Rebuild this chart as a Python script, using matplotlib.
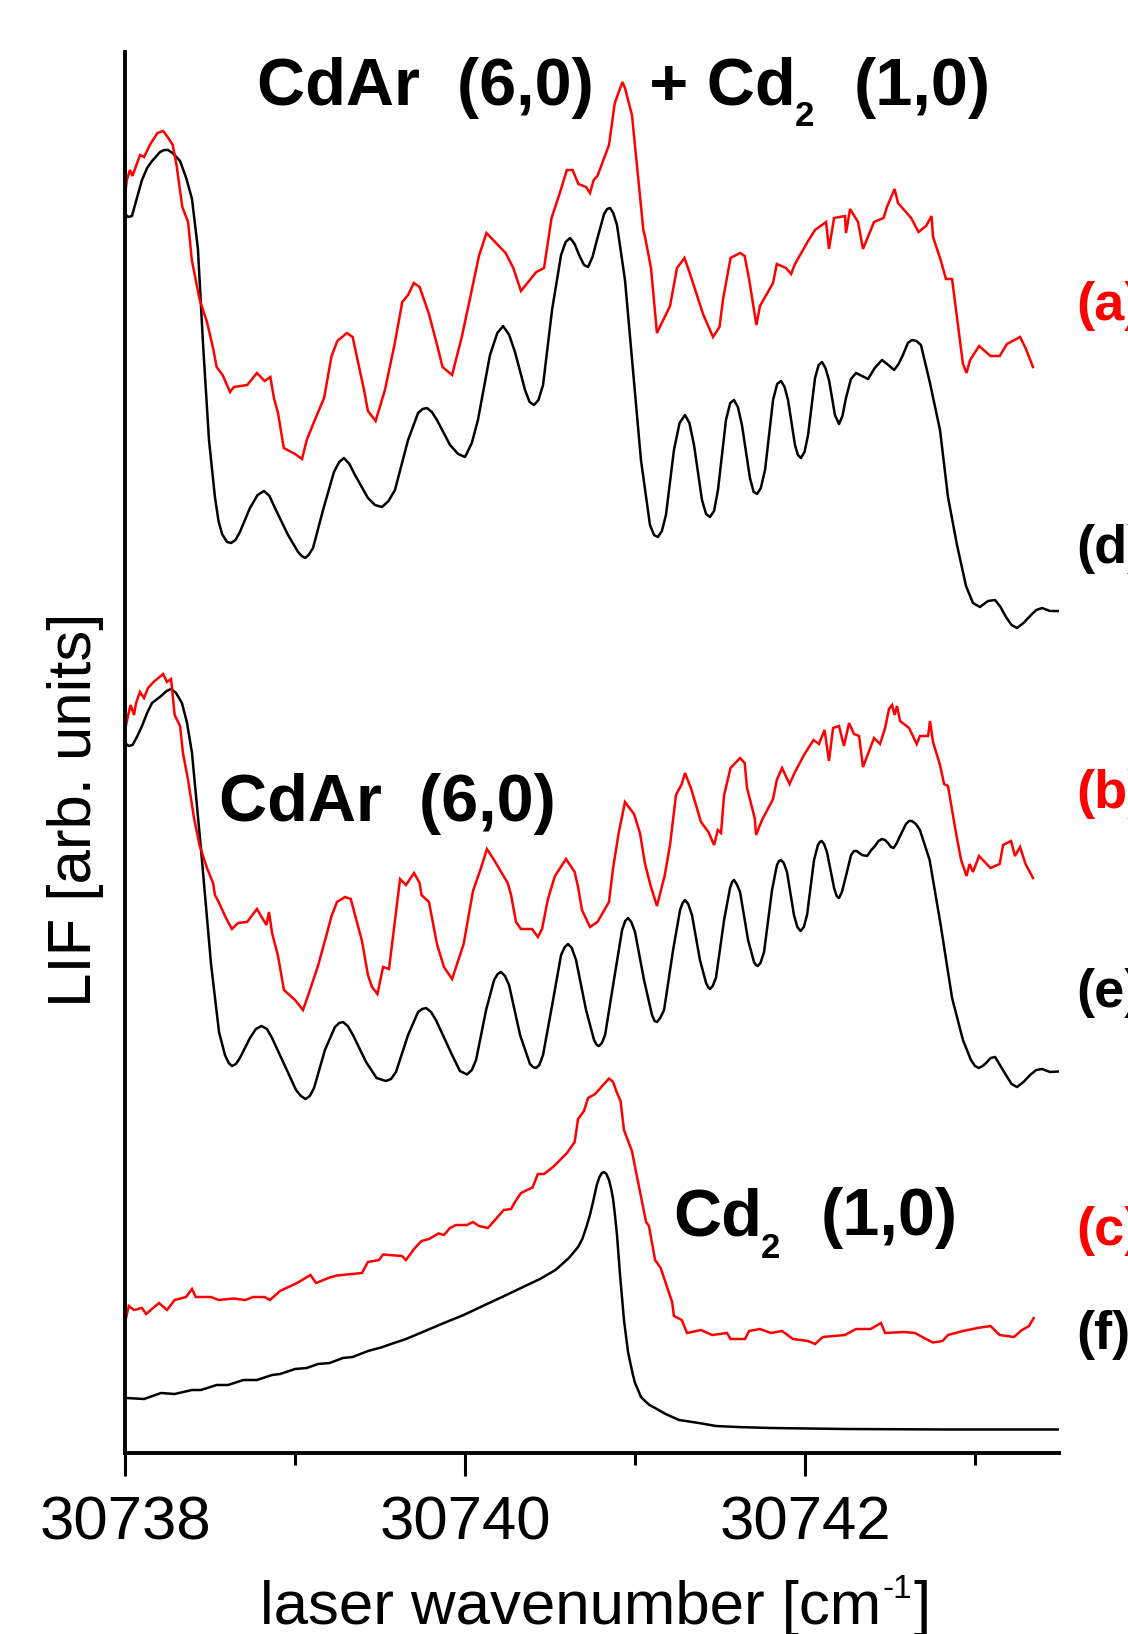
import numpy as np
import matplotlib
matplotlib.use('Agg')
import matplotlib.pyplot as plt
from matplotlib.ticker import MultipleLocator

plt.rcParams['font.family'] = ['Liberation Sans', 'DejaVu Sans']

# wavenumber offsets from 30738 cm-1 and LIF intensities (arb. units)
nu0 = 30738

# (a) experiment, CdAr (6,0) + Cd2 (1,0)
a_dnu = [0.000, 0.011, 0.029, 0.044, 0.067, 0.089, 0.112, 0.146, 0.191, 0.224, 0.247, 0.281, 0.303, 0.337,
         0.371, 0.393, 0.438, 0.482, 0.518, 0.539, 0.574, 0.618, 0.641, 0.719, 0.776, 0.821, 0.855, 0.876,
         0.900, 0.934, 1.000, 1.041, 1.069, 1.114, 1.171, 1.215, 1.249, 1.305, 1.339, 1.406, 1.429, 1.474,
         1.529, 1.586, 1.631, 1.665, 1.699, 1.733, 1.788, 1.834, 1.868, 1.924, 1.981, 2.025, 2.082, 2.126,
         2.239, 2.284, 2.329, 2.419, 2.465, 2.509, 2.554, 2.599, 2.633, 2.667, 2.712, 2.735, 2.757, 2.779,
         2.847, 2.881, 2.926, 2.941, 2.982, 3.049, 3.059, 3.094, 3.129, 3.206, 3.247, 3.291, 3.324, 3.400,
         3.459, 3.497, 3.518, 3.562, 3.618, 3.645, 3.671, 3.714, 3.735, 3.812, 3.834, 3.888, 3.918, 3.941,
         4.018, 4.059, 4.124, 4.141, 4.171, 4.235, 4.241, 4.265, 4.312, 4.341, 4.406, 4.462, 4.482, 4.527,
         4.547, 4.624, 4.668, 4.712, 4.744, 4.753, 4.798, 4.829, 4.865, 4.929, 4.950, 4.971, 5.024, 5.091,
         5.145, 5.188, 5.265, 5.297, 5.341]
a_lif = [1258, 1273, 1283, 1277, 1288, 1298, 1296, 1308, 1320, 1322, 1317, 1308, 1288, 1246,
         1231, 1193, 1154, 1131, 1105, 1086, 1078, 1061, 1066, 1068, 1080, 1072, 1076, 1055,
         1040, 1005, 999, 994, 1013, 1032, 1055, 1097, 1112, 1120, 1116, 1063, 1042, 1032,
         1063, 1109, 1151, 1158, 1170, 1166, 1139, 1109, 1086, 1078, 1116, 1151, 1197, 1220,
         1200, 1185, 1162, 1181, 1185, 1235, 1258, 1283, 1283, 1269, 1266, 1260, 1273, 1277,
         1308, 1350, 1371, 1365, 1338, 1223, 1216, 1185, 1120, 1147, 1185, 1195, 1179, 1139,
         1116, 1126, 1154, 1195, 1200, 1197, 1174, 1128, 1147, 1170, 1189, 1185, 1179, 1189,
         1212, 1223, 1231, 1204, 1235, 1237, 1220, 1244, 1231, 1204, 1231, 1235, 1246, 1264,
         1250, 1235, 1221, 1227, 1237, 1216, 1193, 1174, 1174, 1089, 1080, 1093, 1107, 1097,
         1097, 1109, 1116, 1105, 1086]

# (d) simulation, CdAr (6,0) + Cd2 (1,0)
d_dnu = [0.000, 0.020, 0.041, 0.070, 0.100, 0.130, 0.159, 0.206, 0.230, 0.253, 0.280, 0.324, 0.360, 0.394,
         0.429, 0.459, 0.494, 0.529, 0.550, 0.571, 0.600, 0.624, 0.650, 0.676, 0.735, 0.780, 0.818, 0.850,
         0.882, 0.959, 1.018, 1.040, 1.059, 1.080, 1.106, 1.165, 1.229, 1.260, 1.288, 1.320, 1.353, 1.429,
         1.470, 1.512, 1.550, 1.588, 1.665, 1.724, 1.750, 1.776, 1.805, 1.835, 1.912, 1.960, 2.000, 2.040,
         2.076, 2.147, 2.190, 2.224, 2.260, 2.294, 2.353, 2.380, 2.406, 2.432, 2.459, 2.512, 2.565, 2.592,
         2.618, 2.645, 2.671, 2.700, 2.724, 2.750, 2.776, 2.818, 2.836, 2.853, 2.872, 2.894, 2.941, 2.988,
         3.035, 3.088, 3.112, 3.135, 3.158, 3.182, 3.229, 3.262, 3.294, 3.320, 3.347, 3.394, 3.418, 3.441,
         3.465, 3.488, 3.535, 3.560, 3.582, 3.605, 3.629, 3.676, 3.698, 3.718, 3.740, 3.765, 3.812, 3.836,
         3.859, 3.880, 3.900, 3.941, 3.958, 3.976, 3.997, 4.018, 4.059, 4.080, 4.100, 4.120, 4.141, 4.176,
         4.200, 4.220, 4.241, 4.270, 4.300, 4.335, 4.371, 4.410, 4.453, 4.490, 4.524, 4.550, 4.576, 4.605,
         4.629, 4.655, 4.682, 4.735, 4.794, 4.841, 4.894, 4.947, 4.988, 5.029, 5.076, 5.118, 5.150, 5.182,
         5.215, 5.247, 5.285, 5.324, 5.360, 5.394, 5.440, 5.494]
d_lif = [1239, 1236, 1237, 1255, 1273, 1285, 1292, 1301, 1303, 1303, 1300, 1292, 1275, 1254,
         1204, 1109, 1013, 956, 932, 919, 911, 910, 913, 921, 945, 958, 962, 957,
         945, 918, 901, 897, 895, 898, 905, 943, 981, 991, 995, 989, 978, 955,
         948, 946, 952, 963, 1013, 1040, 1044, 1045, 1041, 1033, 1008, 999, 996, 1010,
         1033, 1098, 1120, 1127, 1118, 1101, 1063, 1051, 1048, 1053, 1068, 1143, 1198, 1211,
         1215, 1209, 1198, 1188, 1186, 1196, 1213, 1239, 1244, 1245, 1240, 1228, 1173, 1083,
         993, 928, 918, 916, 922, 938, 1003, 1030, 1038, 1030, 1008, 953, 939, 936,
         942, 963, 1033, 1050, 1053, 1046, 1028, 975, 961, 959, 965, 983, 1053, 1069,
         1072, 1066, 1053, 1008, 998, 995, 1001, 1018, 1075, 1088, 1091, 1085, 1073, 1038,
         1029, 1037, 1055, 1074, 1080, 1077, 1074, 1085, 1093, 1088, 1083, 1089, 1098, 1110,
         1113, 1112, 1108, 1070, 1023, 956, 908, 867, 850, 846, 852, 853, 846, 836,
         828, 825, 830, 837, 843, 845, 842, 842]

# (b) experiment, CdAr (6,0)
b_dnu = [0.000, 0.024, 0.033, 0.053, 0.065, 0.088, 0.112, 0.135, 0.168, 0.224, 0.247, 0.271, 0.292, 0.324,
         0.341, 0.371, 0.406, 0.438, 0.482, 0.518, 0.529, 0.551, 0.594, 0.629, 0.665, 0.718, 0.776, 0.832,
         0.847, 0.865, 0.900, 0.935, 1.000, 1.047, 1.080, 1.135, 1.182, 1.215, 1.247, 1.294, 1.328, 1.394,
         1.429, 1.453, 1.485, 1.518, 1.553, 1.618, 1.653, 1.700, 1.733, 1.744, 1.788, 1.835, 1.876, 1.924,
         1.992, 2.047, 2.094, 2.129, 2.171, 2.251, 2.271, 2.300, 2.329, 2.394, 2.429, 2.453, 2.488, 2.529,
         2.594, 2.645, 2.665, 2.688, 2.735, 2.779, 2.847, 2.871, 2.904, 2.941, 2.994, 3.029, 3.059, 3.094,
         3.129, 3.174, 3.206, 3.241, 3.275, 3.294, 3.329, 3.388, 3.432, 3.465, 3.487, 3.506, 3.524, 3.562,
         3.618, 3.645, 3.659, 3.704, 3.712, 3.747, 3.812, 3.834, 3.865, 3.909, 3.941, 3.994, 4.050, 4.082,
         4.115, 4.141, 4.165, 4.200, 4.229, 4.259, 4.288, 4.318, 4.341, 4.406, 4.441, 4.471, 4.494, 4.512,
         4.527, 4.541, 4.559, 4.612, 4.657, 4.676, 4.724, 4.735, 4.753, 4.794, 4.818, 4.841, 4.885, 4.918,
         4.950, 4.968, 4.988, 5.024, 5.091, 5.145, 5.165, 5.212, 5.235, 5.265, 5.297, 5.341]
b_lif = [723, 742, 748, 738, 750, 761, 755, 765, 771, 779, 771, 774, 738, 727,
         700, 673, 635, 608, 585, 570, 558, 551, 535, 524, 530, 531, 544, 528,
         541, 520, 497, 463, 453, 443, 459, 487, 516, 537, 551, 556, 554, 512,
         478, 466, 459, 486, 484, 574, 568, 580, 570, 558, 551, 509, 486, 474,
         509, 562, 585, 604, 593, 570, 558, 531, 524, 524, 516, 524, 554, 577,
         594, 581, 566, 543, 526, 531, 551, 585, 620, 651, 639, 620, 589, 566,
         547, 577, 608, 658, 669, 680, 665, 631, 621, 608, 623, 620, 658, 685,
         695, 690, 665, 635, 618, 633, 654, 673, 685, 669, 681, 698, 713, 709,
         723, 692, 725, 727, 707, 730, 719, 717, 686, 715, 709, 725, 744, 748,
         738, 747, 732, 725, 709, 717, 717, 732, 711, 688, 669, 667, 623, 593,
         577, 589, 581, 597, 585, 589, 608, 612, 597, 606, 589, 575]

# (e) simulation, CdAr (6,0)
e_dnu = [0.000, 0.022, 0.044, 0.070, 0.100, 0.130, 0.159, 0.212, 0.245, 0.271, 0.300, 0.335, 0.365, 0.394,
         0.447, 0.506, 0.553, 0.588, 0.610, 0.629, 0.652, 0.676, 0.735, 0.770, 0.803, 0.835, 0.865, 0.941,
         1.006, 1.035, 1.062, 1.087, 1.112, 1.176, 1.235, 1.260, 1.282, 1.310, 1.341, 1.418, 1.480, 1.535,
         1.565, 1.594, 1.665, 1.724, 1.748, 1.771, 1.800, 1.829, 1.924, 1.970, 2.012, 2.040, 2.065, 2.124,
         2.171, 2.192, 2.212, 2.235, 2.259, 2.324, 2.382, 2.400, 2.418, 2.437, 2.459, 2.518, 2.565, 2.587,
         2.606, 2.628, 2.653, 2.712, 2.759, 2.775, 2.788, 2.805, 2.824, 2.876, 2.924, 2.942, 2.959, 2.978,
         3.000, 3.053, 3.100, 3.115, 3.129, 3.148, 3.171, 3.224, 3.265, 3.280, 3.294, 3.313, 3.335, 3.382,
         3.418, 3.430, 3.441, 3.457, 3.476, 3.524, 3.559, 3.571, 3.582, 3.598, 3.618, 3.665, 3.700, 3.711,
         3.721, 3.738, 3.759, 3.806, 3.835, 3.847, 3.859, 3.875, 3.894, 3.935, 3.955, 3.974, 3.993, 4.012,
         4.053, 4.076, 4.087, 4.098, 4.112, 4.129, 4.171, 4.186, 4.200, 4.217, 4.235, 4.271, 4.288, 4.304,
         4.335, 4.365, 4.390, 4.412, 4.432, 4.453, 4.470, 4.488, 4.505, 4.521, 4.540, 4.559, 4.594, 4.612,
         4.629, 4.652, 4.676, 4.733, 4.798, 4.865, 4.929, 4.976, 5.000, 5.022, 5.045, 5.065, 5.092, 5.118,
         5.150, 5.182, 5.215, 5.247, 5.285, 5.324, 5.360, 5.394, 5.441, 5.492]
e_lif = [710, 707, 708, 716, 727, 740, 750, 757, 762, 764, 760, 750, 730, 700,
         604, 489, 421, 398, 390, 387, 389, 395, 415, 424, 427, 424, 415, 387,
         363, 357, 354, 357, 365, 403, 426, 430, 431, 427, 418, 391, 375, 372,
         374, 381, 418, 441, 444, 445, 441, 433, 398, 382, 378.5, 383, 393, 443,
         473, 479, 481, 477, 468, 418, 389, 386, 385, 388, 398, 453, 498, 506,
         509, 505, 493, 443, 413, 408, 407, 410, 418, 473, 523, 532, 535, 531,
         521, 473, 438, 432, 431, 435, 443, 503, 543, 550, 553, 549, 538, 493,
         470, 466, 464, 467, 475, 533, 565, 571, 573, 569, 561, 513, 491, 488,
         487, 490, 501, 563, 588, 592, 593, 590, 581, 538, 526, 522, 526, 538,
         593, 608, 611, 612, 609, 601, 565, 557, 555, 561, 573, 598, 602, 602,
         598, 597, 603, 607, 612, 614, 613, 610, 606, 605, 610, 617, 629, 632,
         632, 629, 623, 593, 528, 455, 413, 393, 387, 385, 387, 390, 395, 396,
         387, 378, 369, 366, 371, 378, 383, 384, 381, 381.5]

# (c) experiment, Cd2 (1,0)
c_dnu = [0.006, 0.022, 0.053, 0.100, 0.124, 0.200, 0.247, 0.292, 0.359, 0.394, 0.416, 0.506, 0.551, 0.641,
         0.708, 0.753, 0.821, 0.853, 0.912, 1.012, 1.091, 1.124, 1.204, 1.247, 1.394, 1.429, 1.494, 1.518,
         1.629, 1.653, 1.700, 1.744, 1.788, 1.845, 1.876, 1.912, 1.947, 2.012, 2.047, 2.082, 2.135, 2.228,
         2.271, 2.294, 2.329, 2.397, 2.429, 2.465, 2.521, 2.600, 2.645, 2.665, 2.700, 2.724, 2.765, 2.847,
         2.871, 2.892, 2.915, 2.935, 2.982, 3.006, 3.038, 3.065, 3.082, 3.118, 3.151, 3.218, 3.229, 3.275,
         3.306, 3.388, 3.453, 3.541, 3.562, 3.647, 3.671, 3.735, 3.800, 3.865, 3.929, 4.018, 4.059, 4.105,
         4.235, 4.300, 4.386, 4.447, 4.471, 4.582, 4.647, 4.712, 4.753, 4.809, 4.841, 4.929, 5.015, 5.091,
         5.145, 5.229, 5.276, 5.318, 5.345]
c_lif = [135, 147, 143, 145, 139, 150, 143, 153, 156, 164, 156, 156, 153, 154.5,
         153, 156, 156, 153, 162, 170, 178, 170, 175.5, 177.5, 180, 191, 193, 198.5,
         197, 193, 204, 212, 214, 219.6, 218, 225, 228, 228, 231, 227, 225, 243,
         244, 251, 260, 265.5, 279, 279, 286.5, 300, 311, 334, 342, 355, 359, 374.5,
         371, 361, 352, 323, 302, 281, 254, 231, 227, 193, 185, 151, 137, 133,
         120, 123, 118, 120, 114, 114, 122, 124, 120, 122, 114, 112, 109, 116,
         118, 124, 124, 130, 120, 121, 120, 114, 110.5, 112, 118, 122, 125, 127,
         118, 116, 123, 127, 135]

# (f) simulation, Cd2 (1,0)
f_dnu = [0.006, 0.112, 0.212, 0.292, 0.394, 0.447, 0.539, 0.606, 0.697, 0.776, 0.865, 0.912, 1.000, 1.069,
         1.135, 1.204, 1.282, 1.339, 1.429, 1.506, 1.565, 1.653, 1.765, 1.876, 1.992, 2.104, 2.218, 2.329,
         2.441, 2.532, 2.611, 2.665, 2.690, 2.712, 2.735, 2.757, 2.775, 2.791, 2.805, 2.818, 2.832, 2.847,
         2.860, 2.871, 2.882, 2.894, 2.912, 2.935, 2.959, 2.975, 2.988, 3.000, 3.018, 3.035, 3.059, 3.085,
         3.118, 3.180, 3.259, 3.376, 3.476, 3.600, 3.800, 4.235, 4.853, 5.494]
f_lif = [55, 54, 60, 59, 63, 63, 68, 68, 73, 73, 78, 79, 84, 85,
         89, 90, 95, 96, 102, 105.5, 109, 114, 122, 130, 138, 147, 156, 165,
         174, 183, 195, 206, 214, 225, 238, 254, 268, 276, 280, 281, 279, 273,
         264, 254, 238, 218, 178, 133, 101, 88, 78, 70, 63, 56, 52, 48,
         45, 39, 33, 30, 27, 26, 25, 24, 23.5, 23.5]

red_traces = [(a_dnu, a_lif), (b_dnu, b_lif), (c_dnu, c_lif)]
black_traces = [(d_dnu, d_lif), (e_dnu, e_lif), (f_dnu, f_lif)]

W, H = 1128, 1634
fig = plt.figure(figsize=(W / 100, H / 100), dpi=100)
ax = fig.add_axes([125 / W, 1 - 1453 / H, 934 / W, 1401 / H])


def fpos(x, y):
    # pixel position -> figure fraction
    return x / W, 1 - y / H


for dnu, lif in black_traces:
    ax.plot(nu0 + np.array(dnu), lif, color='black', lw=1.8,
            solid_joinstyle='round', solid_capstyle='round')
for dnu, lif in red_traces:
    ax.plot(nu0 + np.array(dnu), lif, color='#ff0000', lw=1.8, solid_joinstyle='miter')

ax.set_xlim(nu0, nu0 + 5.494)
ax.set_ylim(0, 1401)
ax.spines['top'].set_visible(False)
ax.spines['right'].set_visible(False)
for s in ['left', 'bottom']:
    ax.spines[s].set_linewidth(2.8)
ax.set_yticks([])
ax.xaxis.set_major_locator(MultipleLocator(2))
ax.xaxis.set_minor_locator(MultipleLocator(1))
ax.tick_params(axis='x', which='major', direction='out', length=16.5, width=2.2,
               labelsize=44.5, pad=14)
ax.tick_params(axis='x', which='minor', direction='out', length=8.3, width=2.2)
ax.xaxis.set_major_formatter(plt.FuncFormatter(lambda v, p: f'{v:.0f}'))

# x label built from pieces so the superscript keeps a short hyphen
xl = fig.text(*fpos(260, 1624), 'laser wavenumber [cm', fontsize=44.5, ha='left', va='baseline')
xs = ax.annotate('-1', xy=(1, 1), xycoords=xl, xytext=(1, 4), textcoords='offset points',
                 fontsize=24, ha='left', va='top')
ax.annotate(']', xy=(1, 0), xycoords=(xs, xl), xytext=(1, 0), textcoords='offset points',
            fontsize=44.5, ha='left', va='bottom')

ax.set_ylabel('LIF [arb. units]', fontsize=44.5)
ax.yaxis.set_label_coords(-0.0225, 0.459)

# band labels
big = dict(fontsize=48, fontweight='bold', ha='left', va='baseline')
sub = dict(fontsize=25, fontweight='bold', ha='left', va='baseline')
fig.text(*fpos(257, 105), 'CdAr  (6,0)   + Cd', **big)
fig.text(*fpos(795, 126), '2', **sub)
fig.text(*fpos(854, 105), '(1,0)', **big)
fig.text(*fpos(219, 821), 'CdAr  (6,0)', **big)
fig.text(*fpos(673, 1235), 'Cd', **big)
fig.text(*fpos(761, 1258), '2', **sub)
fig.text(*fpos(821, 1235), '(1,0)', **big)

# trace labels
tags = ['(a)', '(d)', '(b)', '(e)', '(c)', '(f)']
tag_colors = ['#ff0000', 'black', '#ff0000', 'black', '#ff0000', 'black']
tag_y = [306, 549, 794, 993, 1231, 1335]
for t, c, y in zip(tags, tag_colors, tag_y):
    fig.text(*fpos(1076, y), t, fontsize=39, fontweight='bold', color=c, ha='left', va='center')

fig.savefig('out.png', dpi=100)
